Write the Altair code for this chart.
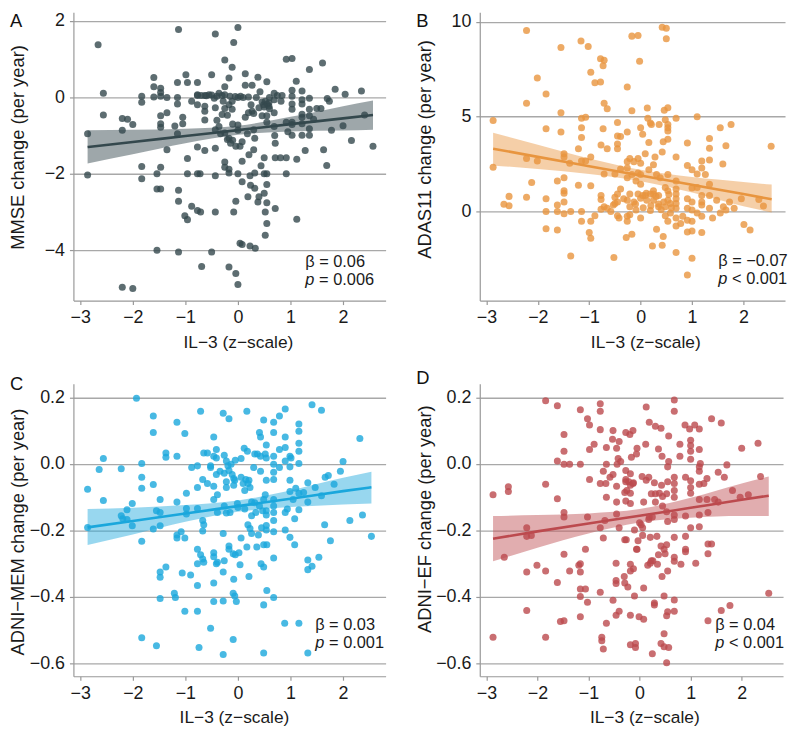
import altair as alt
import pandas as pd

FONT = "Liberation Sans"

# ---------------- data ----------------
X_DOMAIN = [-3.13, 2.81]
X_TICKS = [-3, -2, -1, 0, 1, 2]

# Panel A: MMSE change (per year)
A_PTS = [
    (-2.66, 1.38), (-2.56, 0.11), (-2.56, -0.46), (-2.86, -0.95), (-2.86, -2.03), (-2.2, -0.55),
    (-2.1, -0.57), (-2.2, -0.86), (-2.0, -0.71), (-2.2, -4.97), (-2.0, -5.0), (-1.83, 0.03),
    (-1.83, -0.13), (-1.83, -1.81), (-1.83, -2.13), (-1.6, 0.52), (-1.6, 0.28), (-1.6, 0.01),
    (-1.54, -2.0), (-1.54, -2.4), (-1.54, -4.0), (-1.47, 0.24), (-1.47, 0.13), (-1.47, 0.03),
    (-1.47, -0.48), (-1.47, -0.69), (-1.47, -0.78), (-1.47, -1.83), (-1.47, -2.4), (-1.35, 0.0),
    (-1.35, -0.4), (-1.35, -1.37), (-1.2, -0.75), (-1.15, -0.95), (-1.15, 0.39), (-1.15, 0.0),
    (-1.15, -0.17), (-1.13, 1.78), (-1.13, -2.43), (-1.13, -2.72), (-1.13, -4.05), (-1.05, -0.52),
    (-1.05, -0.69), (-0.99, 0.59), (-0.96, 0.39), (-0.96, -1.6), (-0.96, -2.0), (-1.01, -3.1),
    (-0.96, -3.2), (-0.88, -0.1), (-0.88, -2.85), (-0.77, 0.39), (-0.77, 0.07), (-0.77, -0.19),
    (-0.77, -1.3), (-0.77, -2.0), (-0.77, -2.96), (-0.72, -2.0), (-0.71, -3.0), (-0.69, -4.43),
    (-0.63, 0.05), (-0.63, -0.23), (-0.63, -0.36), (-0.63, -0.59), (-0.63, -1.39), (-0.55, 0.07),
    (-0.5, 0.59), (-0.5, -4.05), (-0.45, -0.02), (-0.43, 1.66), (-0.43, -0.27), (-0.43, -0.85),
    (-0.43, -1.33), (-0.43, -2.05), (-0.43, -3.0), (-0.36, 0.11), (-0.36, -0.76), (-0.28, -0.1),
    (-0.25, 0.98), (-0.25, 0.28), (-0.25, 0.07), (-0.25, -0.29), (-0.25, -0.93), (-0.25, -1.69),
    (-0.25, -1.83), (-0.17, 0.51), (-0.17, -0.19), (-0.17, -1.07), (-0.17, -1.88), (-0.17, -1.98),
    (-0.17, -4.44), (-0.11, 0.79), (-0.11, -0.1), (-0.11, -0.31), (-0.08, 1.44), (-0.08, -3.0),
    (-0.04, -2.72), (-0.04, -1.28), (-0.04, -4.61), (0.0, 1.83), (0.0, -2.0), (0.0, -4.9),
    (0.0, 0.0), (0.0, -0.86), (0.04, -1.28), (0.04, -3.82), (0.08, -3.85), (0.08, -1.16),
    (0.08, -1.67), (0.08, -2.21), (0.14, 0.62), (0.14, 0.32), (0.14, -0.52), (0.18, -0.95),
    (0.19, -2.6), (0.21, -1.5), (0.23, -2.05), (0.23, -3.89), (0.24, -2.3), (0.25, -0.19),
    (0.27, 0.32), (0.27, -0.36), (0.3, -1.37), (0.32, -1.07), (0.32, -1.98), (0.32, -2.38),
    (0.33, -3.95), (0.38, 0.53), (0.38, -2.74), (0.4, -0.27), (0.4, -2.6), (0.42, 0.15),
    (0.44, -1.79), (0.46, -0.12), (0.46, -0.48), (0.49, -0.19), (0.5, -1.58), (0.5, -2.0),
    (0.5, -2.51), (0.52, -3.0), (0.52, -3.61), (0.55, 0.41), (0.55, -0.48), (0.55, -0.65),
    (0.55, -2.0), (0.55, -2.28), (0.55, -3.3), (0.55, -2.76), (0.59, -0.14), (0.59, -0.23),
    (0.69, 0.11), (0.69, -0.06), (0.69, -0.4), (0.69, -0.76), (0.71, -1.2), (0.71, -1.58),
    (0.71, -2.91), (0.81, -1.58), (0.82, -0.1), (0.84, 0.05), (0.92, -0.65), (0.92, 1.0),
    (0.92, -2.0), (0.92, -1.58), (0.95, -0.9), (1.03, 1.02), (1.03, 0.19), (1.03, 0.03),
    (1.03, -0.17), (1.03, -0.31), (1.03, -0.65), (1.03, -0.71), (1.03, -0.99), (1.11, 0.42),
    (1.12, -1.62), (1.12, -3.19), (1.22, 0.17), (1.22, -0.06), (1.22, -0.17), (1.22, -0.44),
    (1.22, -0.52), (1.22, -0.69), (1.22, -0.99), (1.28, -1.39), (1.36, 0.73), (1.36, -0.02),
    (1.36, -0.31), (1.36, -0.48), (1.36, -0.82), (1.36, -0.99), (1.44, -0.57), (1.5, -0.29),
    (1.58, -0.29), (1.61, 0.9), (1.63, -1.37), (1.69, -1.78), (1.7, -0.03), (1.74, -0.1),
    (1.78, -0.86), (1.85, 0.21), (2.0, -0.74), (2.04, 0.08), (2.16, -1.13), (2.35, 0.17),
    (2.41, -0.46), (2.57, -1.28),
    (-0.77, 0.05), (-0.7, 0.05), (-0.6, 0.04), (-0.5, 0.06), (-0.4, 0.03), (-0.3, 0.05),
    (-0.15, 0.03), (-0.05, 0.02), (0.05, 0.03), (0.1, 0.0), (0.2, 0.01), (0.35, 0.0),
    (0.6, 0.0), (0.75, 0.05), (0.52, -0.1), (0.56, -0.18), (0.5, -0.25), (0.6, -0.3),
    (0.2, -0.4), (0.3, -0.42), (-0.3, -0.45), (-0.2, -0.47), (-0.4, -0.6), (-0.1, -0.7),
    (0.0, -0.72), (0.3, -0.85), (0.7, -1.0), (-0.2, -1.1), (-0.1, -1.12), (-0.33, -0.95),
    (-0.14, -1.2),
]
# fitted line and 95% band: x, fit, lower, upper
A_FIT = [(-2.86, -1.30, -1.73, -0.86), (-2.0, -1.17, -1.49, -0.85), (-1.0, -1.01, -1.20, -0.82),
         (0.0, -0.857, -0.98, -0.74), (1.0, -0.70, -0.89, -0.51), (2.0, -0.55, -0.87, -0.23),
         (2.57, -0.46, -0.85, -0.08)]

# Panel B: ADAS11 change (per year)
B_PTS = [
    (-2.87, 4.8), (-2.87, 2.34), (-2.56, 0.8), (-2.66, 0.39), (-2.56, 0.31), (-2.22, 9.53),
    (-2.22, 5.71), (-2.22, 2.8), (-2.22, 0.76), (-2.01, 7.03), (-2.01, 2.66), (-2.12, 1.53),
    (-1.84, 6.19), (-1.84, 4.36), (-1.84, 0.68), (-1.84, 0.0), (-1.84, -0.9), (-1.62, 1.61),
    (-1.62, 0.34), (-1.62, 0.0), (-1.62, -0.97), (-1.55, 8.64), (-1.55, 5.2), (-1.55, 4.19),
    (-1.49, 3.05), (-1.49, 2.88), (-1.49, 1.78), (-1.49, 1.1), (-1.49, 0.97), (-1.49, 0.51),
    (-1.49, -0.12), (-1.38, 2.54), (-1.36, 0.0), (-1.36, -2.34), (-1.21, 3.31), (-1.21, 1.39),
    (-1.16, 8.98), (-1.15, 4.92), (-1.15, 4.41), (-1.15, 3.9), (-1.15, 2.66), (-1.15, 0.0),
    (-1.15, -0.51), (-1.07, 4.97), (-1.07, 2.66), (-1.02, 8.69), (-1.0, -1.1), (-0.97, 7.34),
    (-0.97, 2.88), (-0.97, 1.36), (-0.97, -0.51), (-0.97, -1.41), (-0.89, 6.78), (-0.89, -0.22),
    (-0.78, 8.05), (-0.78, 6.83), (-0.77, 0.85), (-0.77, 0.63), (-0.77, 0.12), (-0.73, 7.68),
    (-0.73, 4.36), (-0.71, 5.71), (-0.71, 7.97), (-0.71, 1.98), (-0.71, 0.25), (-0.77, 3.51),
    (-0.65, 5.42), (-0.65, 3.31), (-0.65, 0.17), (-0.58, 0.0), (-0.53, 0.34), (-0.52, -2.42),
    (-0.5, 1.98), (-0.5, 0.76), (-0.5, 0.42), (-0.45, 4.69), (-0.45, 3.98), (-0.45, 3.56),
    (-0.45, 3.31), (-0.45, 0.93), (-0.45, 0.51), (-0.45, -0.22), (-0.42, -0.34), (-0.39, 3.95),
    (-0.39, 2.24), (-0.39, 1.19), (-0.33, 0.68), (-0.28, -1.36), (-0.26, 6.56), (-0.26, 4.19),
    (-0.26, 2.63), (-0.26, 2.29), (-0.26, 1.78), (-0.26, 0.59), (-0.26, -0.25), (-0.26, -0.51),
    (-0.21, 2.8), (-0.21, 0.93), (-0.21, 0.25), (-0.21, -0.17), (-0.17, 9.24), (-0.17, 5.31),
    (-0.17, 1.95), (-0.17, -1.19), (-0.13, 2.63), (-0.13, 0.51), (-0.09, 1.61), (-0.09, 0.08),
    (-0.05, 9.27), (-0.05, 2.8), (-0.05, 2.03), (-0.05, 0.93), (-0.02, 7.92), (0.0, 4.41),
    (0.0, 2.54), (0.0, 1.95), (0.0, 1.44), (0.0, -0.34), (0.04, 4.07), (0.04, 0.85),
    (0.09, 0.85), (0.09, 3.05), (0.11, 0.97), (0.13, 5.46), (0.14, 4.92), (0.16, 3.64),
    (0.16, 2.2), (0.19, 4.66), (0.19, 0.93), (0.19, 0.05), (0.21, 4.58), (0.23, -1.81),
    (0.25, 2.46), (0.25, 0.93), (0.25, 0.59), (0.28, 2.88), (0.31, -0.93), (0.31, 1.95),
    (0.35, 0.85), (0.35, 0.25), (0.36, 4.58), (0.38, 1.78), (0.42, 3.14), (0.42, -1.78),
    (0.44, 3.68), (0.44, -1.31), (0.42, 9.71), (0.5, 9.66), (0.5, 9.1), (0.46, 5.34),
    (0.48, 4.83), (0.48, 1.27), (0.48, 0.25), (0.48, -0.22), (0.53, 5.47), (0.53, 4.24),
    (0.53, 3.81), (0.53, 1.95), (0.53, 1.1), (0.53, 0.59), (0.53, -0.51), (0.53, 4.41),
    (0.53, 4.58), (0.58, 0.42), (0.58, -0.08), (0.69, 4.92), (0.69, 2.88), (0.69, 1.61),
    (0.69, 1.19), (0.69, 0.93), (0.69, 0.68), (0.69, 0.42), (0.69, 0.17), (0.69, -0.34),
    (0.69, -0.76), (0.69, -2.15), (0.78, -0.63), (0.82, -0.25), (0.91, 3.61), (0.91, 2.42),
    (0.91, 0.68), (0.91, 0.17), (0.91, -0.46), (0.91, -1.07), (0.91, -3.34), (1.0, 2.2),
    (1.0, 1.24), (1.0, 0.51), (1.0, 0.08), (1.0, -0.51), (1.0, -1.02), (1.0, -2.46),
    (1.1, 5.0), (1.1, 1.98), (1.1, 1.27), (1.1, -0.08), (1.19, 2.66), (1.19, 2.29),
    (1.19, 0.85), (1.19, 0.51), (1.19, 0.34), (1.19, -0.25), (1.19, -1.1), (1.26, 1.95),
    (1.34, 3.85), (1.34, 3.34), (1.34, 2.71), (1.34, 1.44), (1.34, 0.85), (1.34, 0.17),
    (1.4, -0.34), (1.48, 0.59), (1.55, 4.41), (1.55, -0.08), (1.6, 2.51), (1.61, 0.25),
    (1.66, 3.47), (1.66, 0.08), (1.73, 0.51), (1.76, 4.58), (1.82, 0.17), (1.96, 0.68),
    (2.01, -0.68), (2.13, -0.97), (2.3, 0.63), (2.39, 0.29), (2.54, 3.44),
    (0.05, 0.2), (0.12, 0.6), (0.2, 0.3), (0.3, 0.8), (0.4, 0.1), (0.45, 0.5),
    (0.55, 0.9), (0.6, 0.2), (-0.1, 0.4), (0.0, 0.7), (0.25, 1.1), (0.35, 0.4),
]
B_FIT = [(-2.87, 3.31, 2.43, 4.15), (-2.0, 2.88, 2.24, 3.52), (-1.0, 2.39, 1.98, 2.80),
         (0.0, 1.90, 1.60, 2.20), (1.0, 1.41, 1.00, 1.82), (2.0, 0.92, 0.28, 1.56),
         (2.55, 0.65, -0.05, 1.42)]

# Panel C: ADNI-MEM change (per year)
C_PTS = [
    (-2.86, -0.076), (-2.86, -0.191), (-2.64, -0.017), (-2.56, 0.016), (-2.56, -0.11), (-2.22, -0.015),
    (-2.22, -0.156), (-2.19, -0.165), (-2.11, -0.138), (-2.11, -0.167), (-2.01, -0.119), (-2.01, -0.186),
    (-1.93, 0.197), (-1.83, 0.001), (-1.83, -0.04), (-1.83, -0.073), (-1.83, -0.233), (-1.83, -0.523),
    (-1.61, 0.144), (-1.61, 0.094), (-1.61, -0.062), (-1.61, -0.196), (-1.55, -0.547), (-1.55, -0.141),
    (-1.48, -0.146), (-1.48, -0.186), (-1.48, -0.107), (-1.48, -0.325), (-1.48, -0.341), (-1.48, -0.405),
    (-1.37, 0.033), (-1.37, 0.02), (-1.37, -0.31), (-1.21, -0.389), (-1.19, -0.402), (-1.16, 0.125),
    (-1.16, 0.023), (-1.16, -0.115), (-1.16, -0.214), (-1.16, -0.223), (-1.08, -0.204), (-1.06, -0.328),
    (-1.01, 0.091), (-1.01, -0.223), (-1.01, -0.443), (-0.98, -0.088), (-0.98, -0.134), (-0.98, -0.151),
    (-0.9, -0.334), (-0.88, -0.011), (-0.77, -0.006), (-0.77, -0.071), (-0.77, -0.134), (-0.77, -0.257),
    (-0.77, -0.3), (-0.77, -0.366), (-0.77, -0.443), (-0.74, -0.552), (-0.71, 0.158), (-0.71, -0.273),
    (-0.67, -0.047), (-0.67, -0.17), (-0.67, -0.202), (-0.67, -0.286), (-0.65, 0.033), (-0.65, -0.183),
    (-0.65, -0.296), (-0.58, 0.033), (-0.58, -0.059), (-0.52, -0.006), (-0.52, -0.011), (-0.52, -0.494),
    (-0.46, 0.081), (-0.46, 0.023), (-0.46, -0.067), (-0.46, -0.107), (-0.46, -0.267), (-0.46, -0.279),
    (-0.46, -0.358), (-0.46, -0.414), (-0.41, 0.043), (-0.41, 0.018), (-0.41, -0.032), (-0.41, -0.3),
    (-0.39, -0.296), (-0.39, -0.093), (-0.39, -0.146), (-0.34, -0.022), (-0.28, 0.152), (-0.28, -0.209),
    (-0.28, -0.325), (-0.28, -0.412), (-0.28, -0.573), (-0.26, 0.026), (-0.26, -0.028), (-0.26, -0.127),
    (-0.26, -0.291), (-0.22, 0.009), (-0.22, -0.054), (-0.22, -0.071), (-0.22, -0.148), (-0.19, -0.006),
    (-0.17, 0.136), (-0.17, -0.02), (-0.17, -0.247), (-0.17, -0.257), (-0.15, -0.146), (-0.13, -0.001),
    (-0.11, -0.032), (-0.09, -0.27), (-0.09, -0.389), (-0.09, -0.528), (-0.08, -0.044), (-0.08, -0.064),
    (-0.08, -0.347), (-0.06, -0.049), (-0.06, -0.397), (-0.05, 0.011), (-0.05, -0.273), (-0.03, -0.414),
    (-0.01, -0.119), (0.0, -0.131), (0.02, -0.267), (0.04, -0.303), (0.06, -0.04), (0.06, -0.223),
    (0.06, 0.016), (0.1, -0.059), (0.12, 0.047), (0.13, -0.08), (0.13, -0.136), (0.15, -0.047),
    (0.17, 0.158), (0.17, -0.25), (0.18, 0.038), (0.19, -0.059), (0.19, -0.183), (0.21, -0.049),
    (0.21, -0.339), (0.23, -0.071), (0.23, -0.194), (0.26, -0.156), (0.26, -0.115), (0.26, -0.209),
    (0.3, -0.011), (0.32, 0.03), (0.32, -0.117), (0.34, -0.146), (0.36, -0.25), (0.37, 0.03),
    (0.39, -0.214), (0.41, 0.094), (0.41, -0.127), (0.43, 0.081), (0.43, 0.023), (0.43, -0.022),
    (0.44, -0.3), (0.45, -0.192), (0.47, -0.141), (0.49, 0.132), (0.49, -0.107), (0.49, -0.243),
    (0.49, -0.31), (0.49, -0.424), (0.49, -0.569), (0.52, 0.03), (0.52, -0.093), (0.54, 0.057),
    (0.54, 0.018), (0.54, -0.049), (0.54, -0.141), (0.54, -0.154), (0.54, -0.185), (0.54, -0.199),
    (0.55, -0.381), (0.55, -0.243), (0.68, 0.125), (0.68, 0.094), (0.68, 0.023), (0.68, -0.001),
    (0.68, -0.025), (0.68, -0.047), (0.68, -0.107), (0.68, -0.127), (0.68, -0.146), (0.68, -0.17),
    (0.68, -0.204), (0.68, -0.283), (0.68, -0.402), (0.79, 0.144), (0.79, 0.043), (0.79, -0.011),
    (0.89, -0.479), (0.9, 0.165), (0.9, 0.081), (0.9, 0.049), (0.9, 0.009), (0.9, -0.146),
    (0.9, -0.199), (0.94, -0.136), (0.99, 0.023), (0.99, -0.009), (0.99, -0.049), (0.99, -0.083),
    (0.99, -0.221), (1.01, 0.018), (1.05, -0.107), (1.08, -0.165), (1.08, -0.243), (1.1, -0.073),
    (1.16, 0.12), (1.16, 0.098), (1.16, 0.062), (1.16, 0.038), (1.16, 0.001), (1.16, -0.088),
    (1.16, -0.138), (1.16, -0.479), (1.25, -0.086), (1.33, -0.057), (1.33, -0.115), (1.33, -0.289),
    (1.33, -0.318), (1.33, -0.569), (1.41, 0.178), (1.41, -0.308), (1.47, -0.071), (1.59, 0.161),
    (1.59, -0.096), (1.54, -0.281), (1.66, -0.04), (1.65, -0.183), (1.72, -0.035), (1.76, -0.231),
    (1.83, -0.061), (1.95, -0.022), (2.0, 0.007), (2.13, -0.17), (2.32, 0.076), (2.37, -0.154),
    (2.54, -0.218),
]
C_FIT = [(-2.86, -0.191, -0.244, -0.136), (-2.0, -0.172, -0.212, -0.132), (-1.0, -0.149, -0.174, -0.124),
         (0.0, -0.127, -0.144, -0.110), (1.0, -0.105, -0.130, -0.080), (2.0, -0.082, -0.122, -0.042),
         (2.54, -0.0705, -0.119, -0.024)]

# Panel D: ADNI-EF change (per year)
D_PTS = [
    (-2.87, -0.093), (-2.87, -0.521), (-2.65, -0.281), (-2.57, -0.069), (-2.57, -0.083), (-2.21, -0.192),
    (-2.21, -0.218), (-2.21, -0.325), (-2.21, -0.441), (-2.12, -0.215), (-2.01, -0.305), (-1.84, 0.19),
    (-1.84, -0.061), (-1.84, -0.322), (-1.84, -0.521), (-1.61, 0.175), (-1.61, 0.009), (-1.61, -0.105),
    (-1.61, -0.357), (-1.55, -0.474), (-1.48, 0.088), (-1.48, 0.038), (-1.48, -0.001), (-1.48, -0.146),
    (-1.48, -0.16), (-1.48, -0.272), (-1.48, -0.472), (-1.37, -0.001), (-1.37, -0.322), (-1.19, -0.305),
    (-1.16, 0.163), (-1.16, -0.001), (-1.16, -0.3), (-1.16, -0.325), (-1.16, -0.376), (-1.16, -0.399),
    (-1.16, -0.46), (-1.06, -0.376), (-1.06, -0.257), (-1.02, 0.136), (-1.02, -0.16), (-1.02, -0.416),
    (-0.98, 0.117), (-0.98, 0.043), (-0.98, -0.047), (-0.89, 0.059), (-0.77, 0.181), (-0.77, 0.158),
    (-0.77, 0.103), (-0.77, -0.059), (-0.77, -0.192), (-0.77, -0.386), (-0.74, -0.521), (-0.74, -0.532),
    (-0.71, -0.022), (-0.71, -0.223), (-0.71, -0.557), (-0.68, -0.17), (-0.66, -0.059), (-0.65, 0.049),
    (-0.65, -0.001), (-0.65, -0.1), (-0.65, -0.479), (-0.58, -0.04), (-0.53, 0.074), (-0.52, 0.1),
    (-0.52, -0.032), (-0.52, -0.41), (-0.46, -0.299), (-0.46, -0.351), (-0.46, -0.36), (-0.46, -0.455),
    (-0.45, 0.047), (-0.45, -0.067), (-0.45, -0.115), (-0.45, -0.151), (-0.44, -0.001), (-0.42, 0.016),
    (-0.4, 0.067), (-0.4, -0.192), (-0.4, -0.443), (-0.37, 0.007), (-0.3, -0.339), (-0.29, -0.086),
    (-0.29, -0.228), (-0.29, -0.358), (-0.27, 0.094), (-0.27, -0.02), (-0.27, -0.047), (-0.27, -0.054),
    (-0.27, -0.112), (-0.26, -0.228), (-0.25, -0.08), (-0.23, -0.37), (-0.21, -0.054), (-0.19, 0.088),
    (-0.18, -0.03), (-0.18, -0.064), (-0.18, -0.088), (-0.18, -0.119), (-0.18, -0.302), (-0.18, -0.322),
    (-0.18, -0.455), (-0.18, -0.544), (-0.16, 0.02), (-0.13, 0.1), (-0.13, -0.059), (-0.12, -0.057),
    (-0.12, -0.315), (-0.1, -0.199), (-0.1, -0.397), (-0.08, -0.54), (-0.08, -0.552), (-0.06, 0.03),
    (-0.06, -0.257), (-0.05, 0.047), (-0.05, -0.257), (-0.03, -0.231), (-0.01, -0.46), (0.0, -0.177),
    (0.03, -0.183), (0.05, -0.038), (0.06, -0.192), (0.06, -0.215), (0.08, -0.115), (0.08, -0.373),
    (0.08, -0.467), (0.12, 0.059), (0.13, 0.171), (0.13, -0.049), (0.16, -0.305), (0.18, -0.04),
    (0.18, -0.167), (0.19, 0.125), (0.19, -0.16), (0.21, -0.221), (0.21, -0.299), (0.23, -0.09),
    (0.23, -0.291), (0.25, -0.571), (0.25, -0.16), (0.26, -0.291), (0.29, -0.057), (0.29, -0.424),
    (0.29, -0.418), (0.31, 0.113), (0.31, -0.115), (0.31, -0.09), (0.34, -0.218), (0.35, -0.302),
    (0.37, -0.273), (0.37, 0.045), (0.39, -0.088), (0.42, 0.107), (0.42, -0.247), (0.42, -0.54),
    (0.43, -0.064), (0.44, 0.023), (0.44, -0.339), (0.45, -0.098), (0.45, -0.127), (0.48, -0.257),
    (0.48, -0.397), (0.48, -0.511), (0.48, -0.55), (0.5, -0.27), (0.53, -0.243), (0.53, -0.09),
    (0.53, -0.144), (0.53, -0.457), (0.53, -0.598), (0.55, -0.009), (0.55, -0.054), (0.55, -0.173),
    (0.55, -0.322), (0.55, -0.445), (0.57, 0.084), (0.57, -0.552), (0.57, 0.007), (0.68, 0.192),
    (0.68, 0.158), (0.68, -0.04), (0.68, -0.059), (0.68, -0.08), (0.68, -0.1), (0.68, -0.154),
    (0.68, -0.167), (0.68, -0.221), (0.68, -0.281), (0.68, -0.293), (0.68, -0.409), (0.68, -0.443),
    (0.79, 0.059), (0.79, 0.023), (0.81, -0.302), (0.89, 0.117), (0.9, -0.04), (0.9, -0.157),
    (0.9, -0.218), (0.9, -0.257), (0.9, -0.264), (0.98, 0.105), (1.0, 0.071), (1.0, 0.055),
    (1.0, 0.038), (1.0, 0.014), (1.0, -0.051), (1.0, -0.071), (1.0, -0.088), (1.0, -0.192),
    (1.08, 0.117), (1.1, -0.299), (1.17, 0.105), (1.17, 0.043), (1.17, -0.009), (1.17, -0.022),
    (1.17, -0.061), (1.17, -0.107), (1.17, -0.154), (1.17, -0.189), (1.19, 0.001), (1.26, -0.059),
    (1.32, -0.044), (1.32, -0.107), (1.34, -0.146), (1.34, -0.241), (1.34, -0.27), (1.34, -0.472),
    (1.41, 0.136), (1.41, -0.241), (1.47, -0.107), (1.54, -0.115), (1.54, -0.025), (1.6, 0.123),
    (1.6, -0.441), (1.66, -0.04), (1.71, -0.003), (1.77, -0.426), (1.82, -0.08), (1.97, -0.1),
    (2.0, 0.047), (2.13, -0.093), (2.32, 0.062), (2.37, -0.038), (2.53, -0.389),
]
D_FIT = [(-2.87, -0.225, -0.293, -0.157), (-2.0, -0.203, -0.252, -0.154), (-1.0, -0.179, -0.209, -0.149),
         (0.0, -0.156, -0.176, -0.136), (1.0, -0.132, -0.162, -0.102), (2.0, -0.108, -0.157, -0.059),
         (2.53, -0.0957, -0.157, -0.038)]

# annotation texts and their data positions (x, beta-line y, p-line y)
STATS = {
    "A": ("β = 0.06", "= 0.006", 1.28, -4.44, -4.90),
    "B": ("β = −0.07", "< 0.001", 1.51, -2.88, -3.84),
    "C": ("β = 0.03", "= 0.001", 1.47, -0.4986, -0.5536),
    "D": ("β = 0.04", "< 0.001", 1.48, -0.4986, -0.5536),
}


def panel(letter, pts, fit, color, band_op, ydomain, yticks, yfmt, ytitle,
          width, height, letter_y, xtitle_x, ytitle_y):
    df = pd.DataFrame(pts, columns=["x", "y"])
    fdf = pd.DataFrame(fit, columns=["x", "fit", "lo", "hi"])
    beta, ptxt, sx, sy1, sy2 = STATS[letter]
    sdf = pd.DataFrame([{"x": sx, "y1": sy1, "y2": sy2, "beta": beta, "p": "p", "rest": ptxt}])

    xscale = alt.Scale(domain=X_DOMAIN, nice=False, zero=False)
    yscale = alt.Scale(domain=ydomain, nice=False, zero=False)
    xaxis = alt.Axis(values=X_TICKS, format="d", title="IL−3 (z−scale)", grid=False,
                     titleX=xtitle_x, titlePadding=7, labelPadding=4, titleFontSize=17.5)
    yaxis = alt.Axis(values=yticks, format=yfmt, title=ytitle, grid=True,
                     titleX=-46, titleY=ytitle_y, labelPadding=5, titleFontSize=18.5)

    x = alt.X("x:Q", scale=xscale, axis=xaxis)

    points = alt.Chart(df).mark_circle(size=50, opacity=0.8, color=color).encode(
        x=x, y=alt.Y("y:Q", scale=yscale, axis=yaxis))
    band = alt.Chart(fdf).mark_area(color=color, opacity=band_op, interpolate="monotone").encode(
        x=x, y=alt.Y("lo:Q", scale=yscale, axis=yaxis), y2="hi:Q")
    line = alt.Chart(fdf).mark_line(color=color, strokeWidth=2.6, interpolate="monotone").encode(
        x=x, y=alt.Y("fit:Q", scale=yscale, axis=yaxis))
    t1 = alt.Chart(sdf).mark_text(align="left", baseline="alphabetic", fontSize=16.5,
                                  font=FONT, color="#1a1a1a").encode(
        x=x, y=alt.Y("y1:Q", scale=yscale, axis=yaxis), text="beta:N")
    t2 = alt.Chart(sdf).mark_text(align="left", baseline="alphabetic", fontSize=16.5,
                                  font=FONT, fontStyle="italic", color="#1a1a1a").encode(
        x=x, y=alt.Y("y2:Q", scale=yscale, axis=yaxis), text="p:N")
    t3 = alt.Chart(sdf).mark_text(align="left", baseline="alphabetic", fontSize=16.5, dx=14,
                                  font=FONT, color="#1a1a1a").encode(
        x=x, y=alt.Y("y2:Q", scale=yscale, axis=yaxis), text="rest:N")
    lab = alt.Chart(pd.DataFrame([{"t": letter}])).mark_text(
        align="left", baseline="alphabetic", fontSize=18.5, font=FONT, color="#111111").encode(
        x=alt.value(-64), y=alt.value(letter_y), text="t:N")

    return alt.layer(points, band, line, t1, t2, t3, lab).properties(width=width, height=height)


pa = panel("A", A_PTS, A_FIT, "#34484d", 0.48, [-5.32, 2.23], [-4, -2, 0, 2], "d",
           "MMSE change (per year)", 315, 291, 15, 166, 136)
pb = panel("B", B_PTS, B_FIT, "#e8953f", 0.45, [-4.69, 10.5], [0, 5, 10], "d",
           "ADAS11 change (per year)", 308, 291, 15, 167, 138)
pc = panel("C", C_PTS, C_FIT, "#1aa7dc", 0.45, [-0.6386, 0.2406], [-0.6, -0.4, -0.2, 0.0, 0.2], ".1f",
           "ADNI−MEM change (per year)", 315, 295, 6, 162, 149)
pd_ = panel("D", D_PTS, D_FIT, "#bc4a4e", 0.45, [-0.6386, 0.2406], [-0.6, -0.4, -0.2, 0.0, 0.2], ".1f",
            "ADNI−EF change (per year)", 306, 295, 0, 166, 136)

chart = alt.concat(pa, pb, pc, pd_, columns=2, spacing={"row": 18, "column": 29}).properties(
    padding=0
).configure_view(stroke=None).configure_axis(
    labelFont=FONT, titleFont=FONT, labelFontSize=18, titleFontSize=17,
    labelColor="#1a1a1a", titleColor="#1a1a1a", titleFontWeight="normal",
    domainColor="#999999", domainWidth=1.2, tickColor="#999999", tickWidth=1.2, tickSize=4,
    gridColor="#a8a8a8", gridWidth=1.3, labelFlush=False,
)

chart.save("out.html", embed_options={"renderer": "svg", "actions": False})
